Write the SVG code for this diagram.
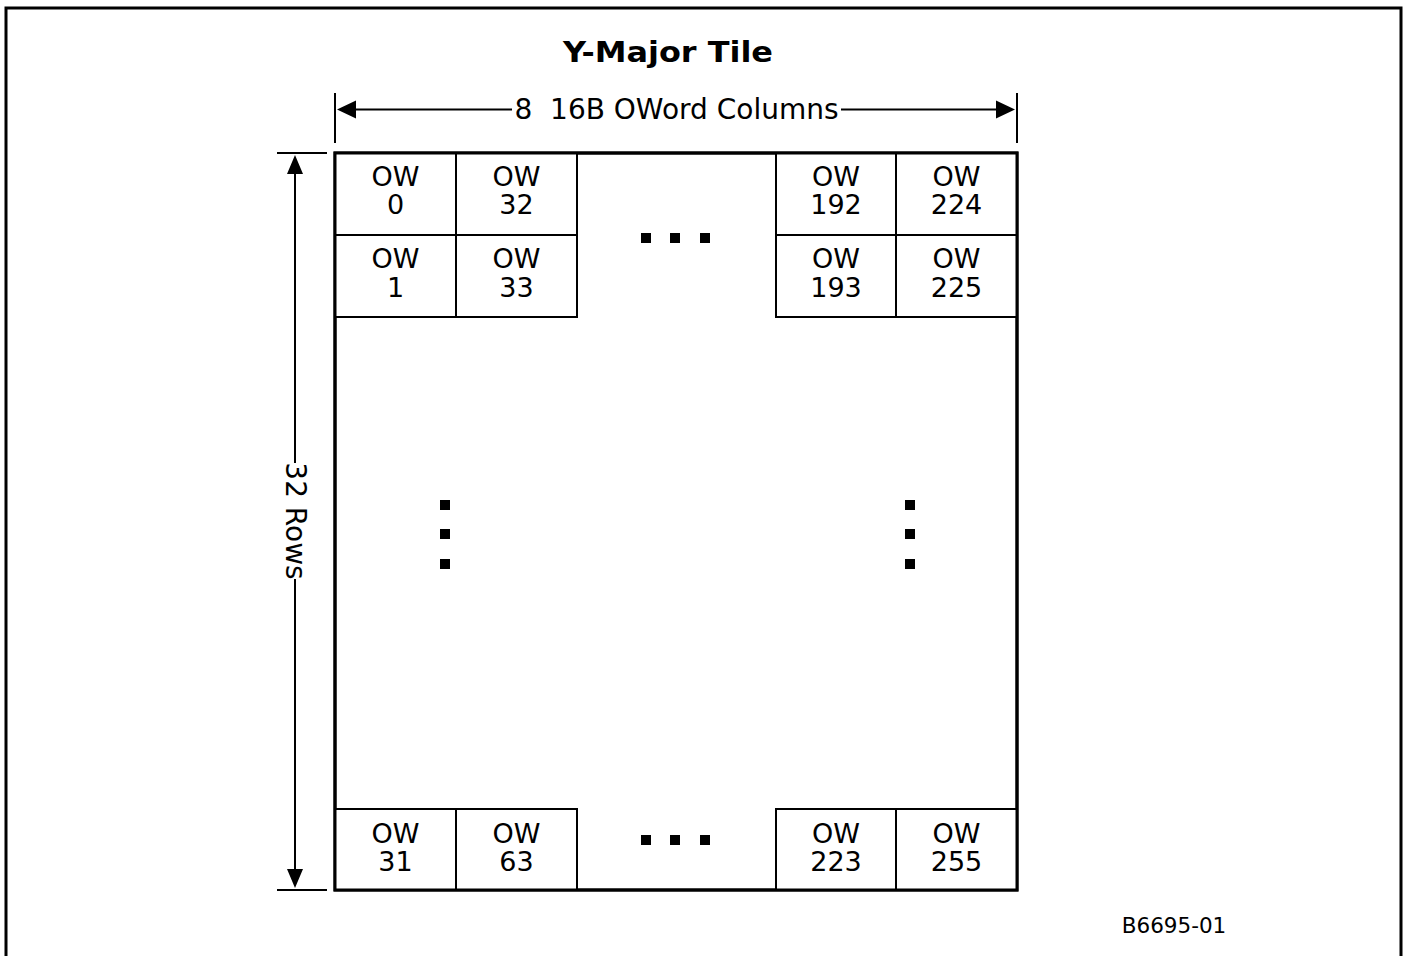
<svg xmlns="http://www.w3.org/2000/svg" width="1406" height="956" viewBox="0 0 1406 956">
<style>
.t{font-family:"DejaVu Sans","Liberation Sans",sans-serif;fill:#000;text-anchor:middle}
.cell rect{fill:#fff;stroke:#000;stroke-width:2}
.cell text{font-size:27px}
.dim{stroke:#000;stroke-width:2;fill:none}
.dot{fill:#000}
</style>
<rect width="1406" height="956" fill="#fff"/>
<path d="M6,956 V8 H1401 V956" fill="none" stroke="#000" stroke-width="3"/>
<text class="t" x="668" y="62" font-size="28" font-weight="bold" textLength="210" lengthAdjust="spacingAndGlyphs">Y-Major Tile</text>
<g id="tile">
<rect x="335" y="153" width="682" height="737" fill="#fff" stroke="#000" stroke-width="3"/>
</g>
<g id="cell-0" class="cell t"><rect x="335" y="153" width="121" height="82"/><text x="395.5" y="186">OW</text><text x="395.5" y="214">0</text></g>
<g id="cell-32" class="cell t"><rect x="456" y="153" width="121" height="82"/><text x="516.5" y="186">OW</text><text x="516.5" y="214">32</text></g>
<g id="cell-1" class="cell t"><rect x="335" y="235" width="121" height="82"/><text x="395.5" y="268">OW</text><text x="395.5" y="297">1</text></g>
<g id="cell-33" class="cell t"><rect x="456" y="235" width="121" height="82"/><text x="516.5" y="268">OW</text><text x="516.5" y="297">33</text></g>
<g id="cell-192" class="cell t"><rect x="776" y="153" width="120" height="82"/><text x="836" y="186">OW</text><text x="836" y="214">192</text></g>
<g id="cell-224" class="cell t"><rect x="896" y="153" width="121" height="82"/><text x="956.5" y="186">OW</text><text x="956.5" y="214">224</text></g>
<g id="cell-193" class="cell t"><rect x="776" y="235" width="120" height="82"/><text x="836" y="268">OW</text><text x="836" y="297">193</text></g>
<g id="cell-225" class="cell t"><rect x="896" y="235" width="121" height="82"/><text x="956.5" y="268">OW</text><text x="956.5" y="297">225</text></g>
<g id="cell-31" class="cell t"><rect x="335" y="809" width="121" height="81"/><text x="395.5" y="843">OW</text><text x="395.5" y="871">31</text></g>
<g id="cell-63" class="cell t"><rect x="456" y="809" width="121" height="81"/><text x="516.5" y="843">OW</text><text x="516.5" y="871">63</text></g>
<g id="cell-223" class="cell t"><rect x="776" y="809" width="120" height="81"/><text x="836" y="843">OW</text><text x="836" y="871">223</text></g>
<g id="cell-255" class="cell t"><rect x="896" y="809" width="121" height="81"/><text x="956.5" y="843">OW</text><text x="956.5" y="871">255</text></g>
<path d="M335,153 H1017 V890 H335 Z" fill="none" stroke="#000" stroke-width="3"/>
<g id="ellipses">
<rect class="dot" x="641" y="233" width="10" height="10"/><rect class="dot" x="670" y="233" width="10" height="10"/><rect class="dot" x="700" y="233" width="10" height="10"/>
<rect class="dot" x="641" y="835" width="10" height="10"/><rect class="dot" x="670" y="835" width="10" height="10"/><rect class="dot" x="700" y="835" width="10" height="10"/>
<rect class="dot" x="440" y="500" width="10" height="10"/><rect class="dot" x="440" y="529" width="10" height="10"/><rect class="dot" x="440" y="559" width="10" height="10"/>
<rect class="dot" x="905" y="500" width="10" height="10"/><rect class="dot" x="905" y="529" width="10" height="10"/><rect class="dot" x="905" y="559" width="10" height="10"/>
</g>
<g id="connectors">
<path class="dim" d="M335,93 V143 M1017,93 V143 M277,153 H327 M277,890 H327"/>
<path class="dim" d="M350,109.5 H512 M841,109.5 H1002"/>
<path d="M337,109.5 l19,-9 v18 z M1015,109.5 l-19,-9 v18 z" fill="#000"/>
<path class="dim" d="M295,168 V463 M295,579 V875"/>
<path d="M295,155 l-8,19 h16 z M295,888 l-8,-19 h16 z" fill="#000"/>
</g>
<text class="t" x="676.5" y="119" font-size="28" style="white-space:pre">8  16B OWord Columns</text>
<text class="t" transform="translate(286,521) rotate(90)" font-size="28">32 Rows</text>
<text class="t" x="1174" y="933" font-size="21.5">B6695-01</text>
</svg>
